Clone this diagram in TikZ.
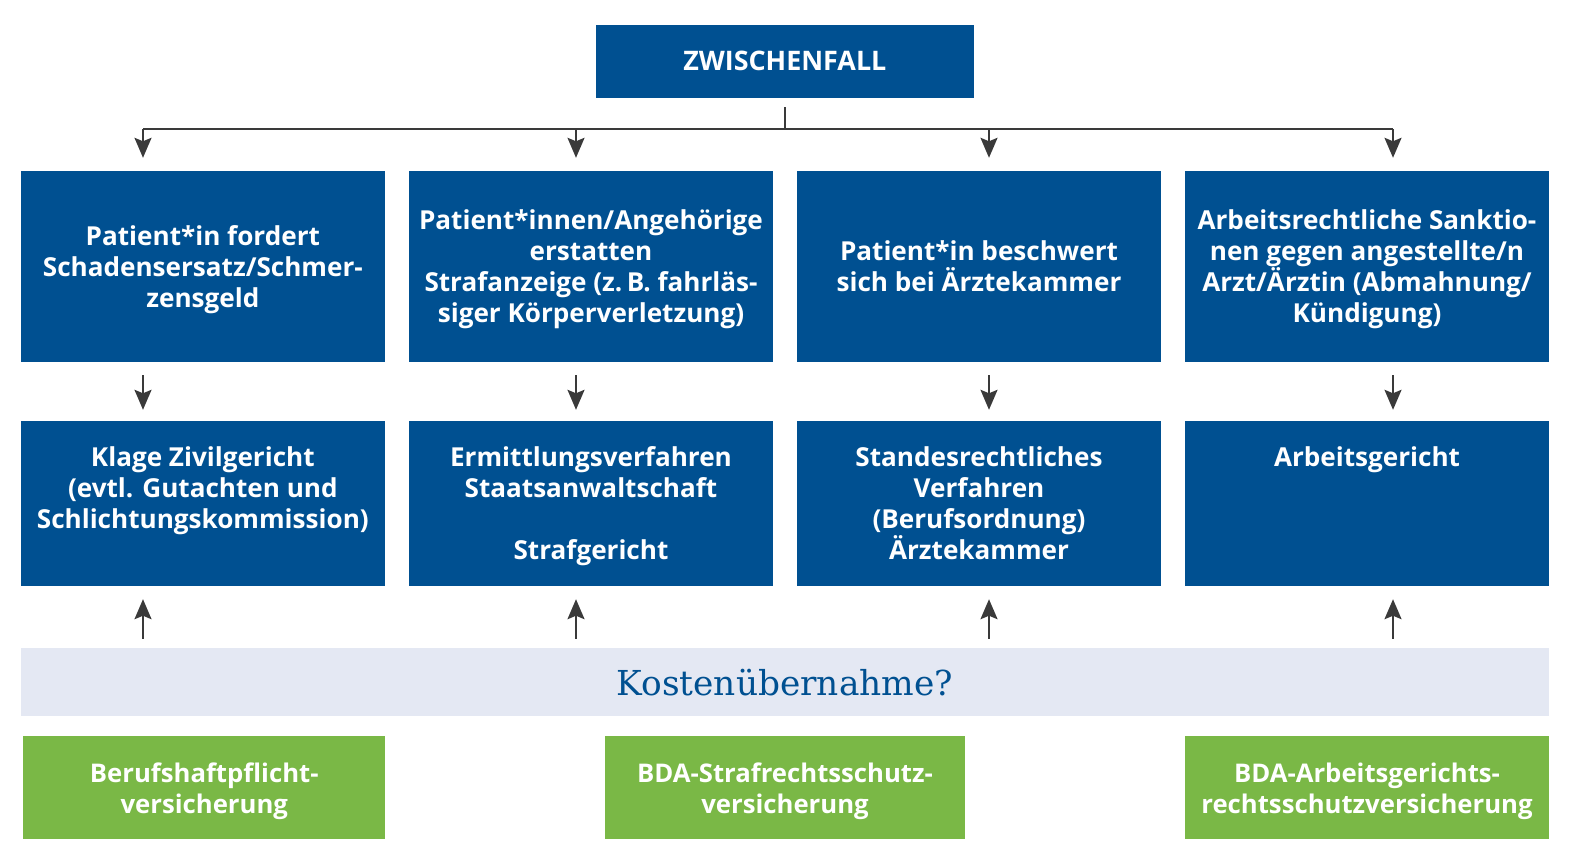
\documentclass[tikz,border=0pt]{standalone}
\usepackage{fontspec}
\setmainfont{Open Sans}
\newfontfamily\kostenfont{DejaVu Serif}
\usetikzlibrary{arrows.meta,positioning,calc}
\definecolor{bdablau}{RGB}{0,80,145}
\definecolor{bdagruen}{RGB}{122,184,70}
\definecolor{bandgrau}{RGB}{228,232,243}
\definecolor{pfeilgrau}{RGB}{58,58,58}

\tikzset{
  blaubox/.style={fill=bdablau, minimum width=364.3bp, inner sep=0pt},
  boxtext/.style={text=white, font=\bfseries\fontsize{26.2}{31}\selectfont, align=center, inner sep=0pt},
  gruenbox/.style={fill=bdagruen, minimum height=103.3bp, inner sep=0pt},
  gruentext/.style={boxtext, font=\bfseries\fontsize{25.8}{31}\selectfont, yshift=-4bp},
  pfeil/.style={draw=pfeilgrau, line width=2bp, -{Stealth[length=20bp,width=17bp,inset=3.5bp]}},
  linie/.style={draw=pfeilgrau, line width=2bp}
}

\begin{document}
\begin{tikzpicture}[x=1bp,y=-1bp]
  \useasboundingbox (0,0) rectangle (1572,862);

  % Kopf
  \node[blaubox, minimum width=377.7bp, minimum height=72.7bp] (zf) at (784.85,61.35) {};
  \node[boxtext, font=\bfseries\fontsize{27}{31}\selectfont] at (zf) {ZWISCHENFALL};

  % erste Reihe
  \node[blaubox, minimum height=191bp] (fa) at (202.85,266.5) {};
  \node[blaubox, minimum height=191bp] (fb) at (591,266.5) {};
  \node[blaubox, minimum height=191bp] (fc) at (979,266.5) {};
  \node[blaubox, minimum height=191bp] (fd) at (1367,266.5) {};
  \node[boxtext, yshift=-3bp] at (fa) {Patient*in fordert\\Schadensersatz/Schmer-\\zensgeld};
  \node[boxtext, yshift=-3bp] at (fb) {Patient*innen/Angehörige\\erstatten\\Strafanzeige (z.\,B. fahrläs-\\siger Körperverletzung)};
  \node[boxtext] at (fc) {Patient*in beschwert\\sich bei Ärztekammer};
  \node[boxtext, yshift=-3bp] at (fd) {Arbeitsrechtliche Sanktio-\\nen gegen angestellte/n\\Arzt/Ärztin (Abmahnung/\\Kündigung)};

  % zweite Reihe
  \node[blaubox, minimum height=165.3bp] (ga) at (202.85,503.35) {};
  \node[blaubox, minimum height=165.3bp] (gb) at (591,503.35) {};
  \node[blaubox, minimum height=165.3bp] (gc) at (979,503.35) {};
  \node[blaubox, minimum height=165.3bp] (gd) at (1367,503.35) {};
  \node[boxtext, below=26bp of ga.north] {Klage Zivilgericht\\(evtl. Gutachten und\\Schlichtungskommission)};
  \node[boxtext, below=26bp of gb.north] {Ermittlungsverfahren\\Staatsanwaltschaft\\[31pt]Strafgericht};
  \node[boxtext, below=26bp of gc.north] {Standesrechtliches\\Verfahren\\(Berufsordnung)\\Ärztekammer};
  \node[boxtext, below=26bp of gd.north] {Arbeitsgericht};

  % Band
  \node[fill=bandgrau, minimum width=1528.3bp, minimum height=67.7bp, inner sep=0pt] (band) at (784.85,682.15) {};
  \node[text=bdablau, font=\kostenfont\fontsize{34.5}{40}\selectfont, inner sep=0pt] at (band) {Kostenübernahme?};

  % Versicherungen
  \node[gruenbox, minimum width=361.5bp] (va) at (204.25,787.65) {};
  \node[gruenbox, minimum width=360bp] (vb) at (785,787.65) {};
  \node[gruenbox, minimum width=364bp] (vc) at (1367,787.65) {};
  \node[gruentext] at (va) {Berufshaftpflicht-\\versicherung};
  \node[gruentext] at (vb) {BDA-Strafrechtsschutz-\\versicherung};
  \node[gruentext] at (vc) {BDA-Arbeitsgerichts-\\rechtsschutzversicherung};

  % Spalten
  \coordinate (sa) at (143,129);
  \coordinate (sb) at (576,129);
  \coordinate (sc) at (989,129);
  \coordinate (sd) at (1393,129);

  % Verteiler
  \draw[linie, shorten <=9.3bp] (zf.south) -- (zf.south |- sa);
  \draw[linie] (sa) -- (sd);
  \foreach \s/\z in {sa/fa,sb/fb,sc/fc,sd/fd}
    \draw[pfeil, shorten >=13bp] (\s) -- (\s |- \z.north);

  \foreach \s/\o/\u in {sa/fa/ga,sb/fb/gb,sc/fc/gc,sd/fd/gd}
    \draw[pfeil, shorten <=13bp, shorten >=10.7bp] (\s |- \o.south) -- (\s |- \u.north);

  \foreach \s/\z in {sa/ga,sb/gb,sc/gc,sd/gd}
    \draw[pfeil, shorten <=9.3bp, shorten >=13bp] (\s |- band.north) -- (\s |- \z.south);
\end{tikzpicture}
\end{document}
